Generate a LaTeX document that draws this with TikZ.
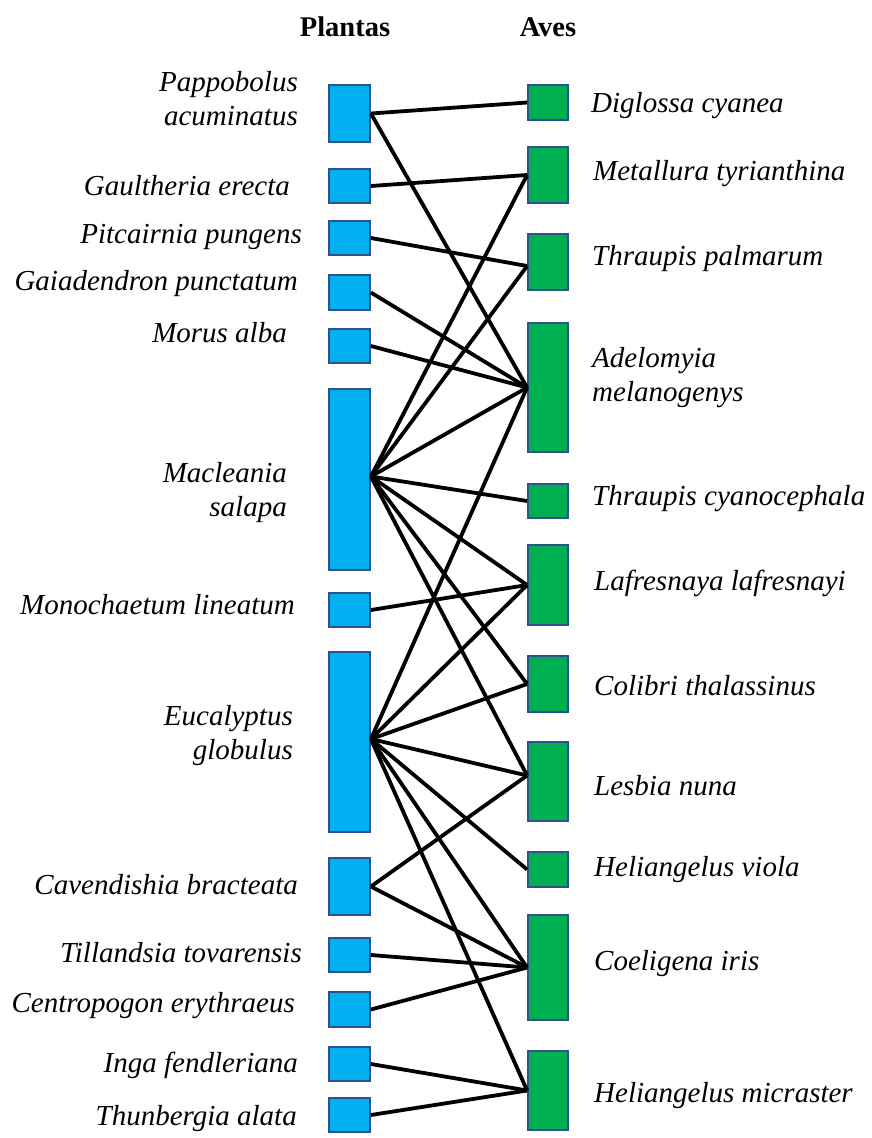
\documentclass[tikz,border=0pt]{standalone}
\usepackage{fontspec}
\setmainfont{Liberation Serif}[ItalicFont={Liberation Serif Italic},BoldFont={Liberation Serif Bold}]
\definecolor{plantfill}{HTML}{00B0F0}
\definecolor{birdfill}{HTML}{00B050}
\definecolor{boxline}{HTML}{2F528F}
\newcommand{\spLab}{\fontsize{29}{34}\selectfont\itshape}
\newcommand{\spHead}{\fontsize{28.5}{34}\selectfont\bfseries}
\newcommand{\twoR}[2]{\begin{tabular}[t]{@{}r@{}}#1\\#2\end{tabular}}
\newcommand{\twoL}[2]{\begin{tabular}[t]{@{}l@{}}#1\\#2\end{tabular}}
\begin{document}
\begin{tikzpicture}[x=1pt,y=-1pt,
  plant/.style={draw=boxline,line width=1.8pt,fill=plantfill,minimum width=41pt,inner sep=0pt},
  bird/.style={draw=boxline,line width=1.8pt,fill=birdfill,minimum width=40pt,inner sep=0pt},
  link/.style={line width=3.8pt,draw=black},
  plabel/.style={anchor=base east,inner sep=0pt,font=\spLab},
  blabel/.style={anchor=base west,inner sep=0pt,font=\spLab},
  head/.style={anchor=base,inner sep=0pt,font=\spHead}]
\useasboundingbox[fill=white] (0,0) rectangle (871,1138);

% headings
\node[head] (hplant) at (345,36) {Plantas};
\node[head] (hbird) at (548,36) {Aves};

% plant boxes
\node[plant,minimum height=57pt] (pap) at (349.5,113.5) {};
\node[plant,minimum height=34pt] (gau) at (349.5,186) {};
\node[plant,minimum height=34pt] (pit) at (349.5,238) {};
\node[plant,minimum height=35pt] (gai) at (349.5,292.5) {};
\node[plant,minimum height=34pt] (mor) at (349.5,346) {};
\node[plant,minimum height=181pt] (mac) at (349.5,479.5) {};
\node[plant,minimum height=34pt] (mon) at (349.5,610) {};
\node[plant,minimum height=180pt] (euc) at (349.5,742) {};
\node[plant,minimum height=57pt] (cav) at (349.5,886.5) {};
\node[plant,minimum height=34pt] (til) at (349.5,955) {};
\node[plant,minimum height=35pt] (cen) at (349.5,1009.5) {};
\node[plant,minimum height=34pt] (inga) at (349.5,1064) {};
\node[plant,minimum height=34pt] (thu) at (349.5,1115) {};

% bird boxes
\node[bird,minimum height=35pt] (dig) at (548,102.5) {};
\node[bird,minimum height=56pt] (met) at (548,175) {};
\node[bird,minimum height=56pt] (tpal) at (548,262) {};
\node[bird,minimum height=129pt] (ade) at (548,387.5) {};
\node[bird,minimum height=34pt] (tcy) at (548,501) {};
\node[bird,minimum height=80pt] (laf) at (548,585) {};
\node[bird,minimum height=56pt] (col) at (548,684) {};
\node[bird,minimum height=79pt] (les) at (548,781.5) {};
\node[bird,minimum height=35pt] (hvi) at (548,869.5) {};
\node[bird,minimum height=105pt] (coe) at (548,967.5) {};
\node[bird,minimum height=79pt] (hmi) at (548,1090.5) {};

% plant labels
\node[plabel] (lpap) at (298,91) {\twoR{Pappobolus}{acuminatus}};
\node[plabel] (lgau) at (290,195) {Gaultheria erecta};
\node[plabel] (lpit) at (302,243) {Pitcairnia pungens};
\node[plabel] (lgai) at (298,290) {Gaiadendron punctatum};
\node[plabel] (lmor) at (287,342) {Morus alba};
\node[plabel] (lmac) at (287,482) {\twoR{Macleania}{salapa}};
\node[plabel] (lmon) at (295,614) {Monochaetum lineatum};
\node[plabel] (leuc) at (293,725) {\twoR{Eucalyptus}{globulus}};
\node[plabel] (lcav) at (298,894) {Cavendishia bracteata};
\node[plabel] (ltil) at (302,962) {Tillandsia tovarensis};
\node[plabel] (lcen) at (295,1012) {Centropogon erythraeus};
\node[plabel] (linga) at (298,1072) {Inga fendleriana};
\node[plabel] (lthu) at (297,1125) {Thunbergia alata};

% bird labels
\node[blabel] (ldig) at (591,112) {Diglossa cyanea};
\node[blabel] (lmet) at (593,180) {Metallura tyrianthina};
\node[blabel] (ltpal) at (592,265) {Thraupis palmarum};
\node[blabel] (lade) at (592,367) {\twoL{Adelomyia}{melanogenys}};
\node[blabel] (ltcy) at (592,505) {Thraupis cyanocephala};
\node[blabel] (llaf) at (594,590) {Lafresnaya lafresnayi};
\node[blabel] (lcol) at (594,695) {Colibri thalassinus};
\node[blabel] (lles) at (594,795) {Lesbia nuna};
\node[blabel] (lhvi) at (594,876) {Heliangelus viola};
\node[blabel] (lcoe) at (594,970) {Coeligena iris};
\node[blabel] (lhmi) at (594,1102) {Heliangelus micraster};

% attachment points that sit off the box centres
\coordinate (macP) at ([yshift=3pt]mac.east);
\coordinate (eucP) at ([yshift=3pt]euc.east);
\coordinate (lesP) at ([yshift=6pt]les.west);
\coordinate (tpalP) at ([yshift=-4pt]tpal.west);

% interactions
\foreach \a/\b in {pap.east/dig.west, pap.east/ade.west, gau.east/met.west,
  pit.east/tpalP, gai.east/ade.west, mor.east/ade.west,
  macP/met.west, macP/tpalP, macP/ade.west, macP/tcy.west, macP/laf.west,
  macP/col.west, macP/lesP, mon.east/laf.west,
  eucP/ade.west, eucP/laf.west, eucP/col.west, eucP/lesP, eucP/hvi.west,
  eucP/coe.west, eucP/hmi.west, cav.east/lesP, cav.east/coe.west,
  til.east/coe.west, cen.east/coe.west, inga.east/hmi.west, thu.east/hmi.west}
  \draw[link] (\a) -- (\b);
\end{tikzpicture}
\end{document}
